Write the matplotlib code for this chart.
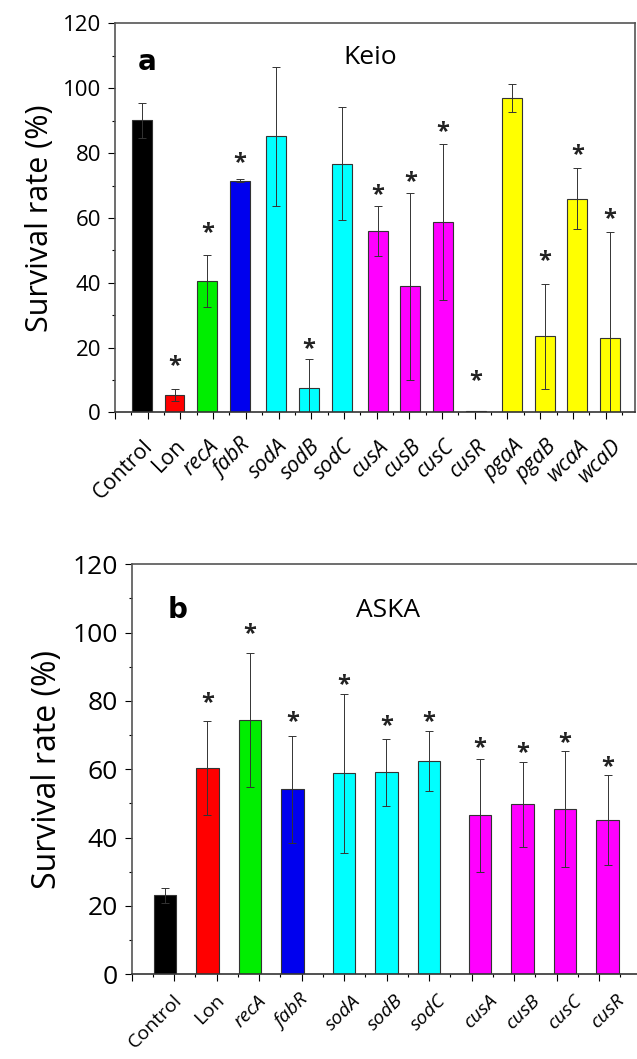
import matplotlib.pyplot as plt
import numpy as np

plt.rcParams['font.family'] = ['Open Sans', 'DejaVu Sans']

# panel a: Keio knockouts
keio_labels = ['Control', 'Lon', 'recA', 'fabR', 'sodA', 'sodB', 'sodC', 'cusA',
               'cusB', 'cusC', 'cusR', 'pgaA', 'pgaB', 'wcaA', 'wcaD']
keio_mean = [90.1, 5.5, 40.6, 71.5, 85.2, 7.6, 76.8, 55.9, 38.9, 58.7, 0.4, 97.0, 23.5, 65.9, 23.1]
keio_err = [5.3, 1.9, 8.1, 0.4, 21.5, 8.8, 17.5, 7.7, 28.8, 24.1, 0.0, 4.4, 16.1, 9.4, 32.6]
keio_star = [None, 14.3, 55.3, 76.8, None, 19.7, None, 67.0, 71.1, 86.5, 9.7, None, 46.6, 79.3, 59.6]
keio_groups = [4, 3, 4, 4]

# panel b: ASKA overexpression
aska_labels = ['Control', 'Lon', 'recA', 'fabR', 'sodA', 'sodB', 'sodC', 'cusA', 'cusB', 'cusC', 'cusR']
aska_mean = [23.1, 60.4, 74.5, 54.1, 58.8, 59.1, 62.4, 46.5, 49.7, 48.5, 45.1]
aska_err = [2.3, 13.8, 19.6, 15.7, 23.3, 9.9, 8.7, 16.6, 12.3, 17.0, 13.2]
aska_star = [None, 79.5, 99.5, 73.9, 84.7, 72.5, 73.7, 66.3, 64.6, 67.8, 60.7]
aska_groups = [4, 3, 4]

gene_colors = {'Control': 'black', 'Lon': 'red', 'recA': '#00ee00', 'fabR': '#0000ee',
               'sodA': 'cyan', 'sodB': 'cyan', 'sodC': 'cyan',
               'cusA': 'magenta', 'cusB': 'magenta', 'cusC': 'magenta', 'cusR': 'magenta',
               'pgaA': 'yellow', 'pgaB': 'yellow', 'wcaA': 'yellow', 'wcaD': 'yellow'}


def positions(groups, start, gap):
    pos = []
    i = 0
    for g, n in enumerate(groups):
        for k in range(n):
            pos.append(start + i + g * gap)
            i += 1
    return np.array(pos)


def panel(ax, labels, mean, err, star, groups, start, gap, width, xmax,
          tick_fs, tick_pad, lab_fs, lab_off, star_fs, letter, title,
          letter_xy, title_xy, ylab_fs):
    x = positions(groups, start, gap)
    cols = [gene_colors[l] for l in labels]
    ax.bar(x, mean, width=width, color=cols, edgecolor='#333333', linewidth=0.8, zorder=2)
    ax.errorbar(x, mean, yerr=err, fmt='none', ecolor='#333333', elinewidth=0.7,
                capsize=3, capthick=0.7, zorder=3)
    for xi, s in zip(x, star):
        if s is not None:
            ax.text(xi, s, '*', ha='center', va='center', fontsize=star_fs,
                    fontweight='bold', color='#222222')
    ax.set_xlim(0, xmax)
    ax.set_ylim(0, 120)
    ax.set_xticks(np.arange(0, int(xmax) + 1))
    ax.set_xticks(np.arange(0.5, xmax, 1), minor=True)
    ax.tick_params(axis='x', which='major', length=5, width=0.8, labelbottom=False)
    ax.tick_params(axis='x', which='minor', length=2.5, width=0.8)
    ax.set_yticks(np.arange(0, 121, 20))
    ax.set_yticks(np.arange(10, 120, 20), minor=True)
    ax.tick_params(axis='y', which='major', length=5, width=0.8, labelsize=tick_fs, pad=tick_pad)
    ax.tick_params(axis='y', which='minor', length=2.5, width=0.8)
    for sp in ax.spines.values():
        sp.set_color('#555555')
        sp.set_linewidth(1.2)
    ax.spines['bottom'].set_color('#333333')
    for xi, l in zip(x, labels):
        style = 'normal' if l in ('Control', 'Lon') else 'italic'
        ax.annotate(l, (xi, 0), xycoords=('data', 'axes fraction'),
                    xytext=lab_off, textcoords='offset points',
                    rotation=45, ha='right', va='center', rotation_mode='anchor',
                    fontsize=lab_fs, fontstyle=style)
    ax.set_ylabel('Survival rate (%)', fontsize=ylab_fs, labelpad=6)
    ax.text(letter_xy[0], letter_xy[1], letter, transform=ax.transAxes, fontsize=20,
            fontweight='bold', ha='center', va='center', family=['DejaVu Sans'])
    ax.text(title_xy[0], title_xy[1], title, transform=ax.transAxes, fontsize=19,
            ha='center', va='center')


fig = plt.figure(figsize=(6.37, 10.59), dpi=100)
W, H = 637.0, 1059.0

ax1 = fig.add_axes([115 / W, 1 - 412.5 / H, 520 / W, 389 / H])
panel(ax1, keio_labels, keio_mean, keio_err, keio_star, keio_groups,
      start=0.82, gap=0.107, width=0.61, xmax=15.9,
      tick_fs=16, tick_pad=5, lab_fs=15.5, lab_off=(6, -22), star_fs=17,
      letter='a', title='Keio', letter_xy=(0.0625, 0.9), title_xy=(0.49, 0.912), ylab_fs=22)

ax2 = fig.add_axes([131.7 / W, 1 - 974.3 / H, 510 / W, 410 / H])
panel(ax2, aska_labels, aska_mean, aska_err, aska_star, aska_groups,
      start=0.78, gap=0.21, width=0.53, xmax=12,
      tick_fs=19, tick_pad=5, lab_fs=14, lab_off=(10, -17), star_fs=17,
      letter='b', title='ASKA', letter_xy=(0.089, 0.888), title_xy=(0.503, 0.888), ylab_fs=23)

fig.savefig('out.png', dpi=100)
